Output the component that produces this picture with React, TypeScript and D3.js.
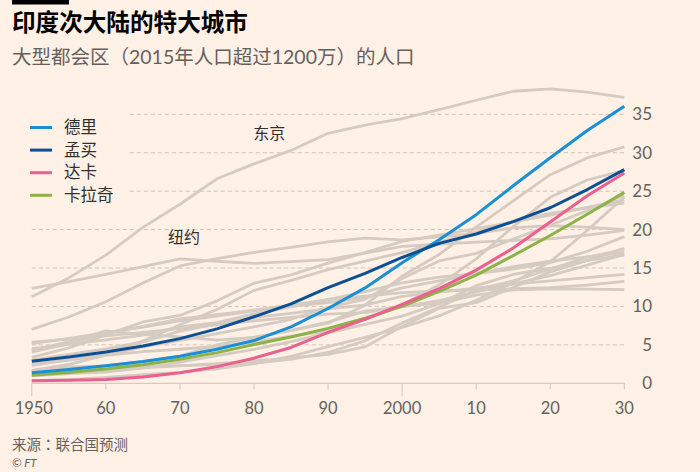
import React from "react";
import * as d3 from "d3";

const years = [1950, 1955, 1960, 1965, 1970, 1975, 1980, 1985, 1990, 1995, 2000, 2005, 2010, 2015, 2020, 2025, 2030];

// Highlighted cities (millions)
const delhi = [1.37, 1.78, 2.28, 2.84, 3.53, 4.43, 5.56, 7.33, 9.73, 12.41, 15.69, 18.67, 21.94, 25.7, 29.35, 32.9, 36.06];
const mumbai = [2.86, 3.43, 4.06, 4.85, 5.81, 7.08, 8.66, 10.34, 12.44, 14.31, 16.37, 18.21, 19.42, 21.04, 22.84, 25.21, 27.8];
const dhaka = [0.34, 0.41, 0.51, 0.82, 1.37, 2.17, 3.27, 4.66, 6.62, 8.33, 10.28, 12.33, 14.73, 17.6, 20.99, 24.4, 27.37];
const karachi = [1.05, 1.39, 1.85, 2.41, 3.12, 3.99, 5.05, 6.03, 7.15, 8.47, 10.02, 11.96, 14.08, 16.62, 19.23, 22.0, 24.84];

// Other megacities (grey)
const tokyo = [11.27, 13.71, 16.68, 20.28, 23.3, 26.61, 28.55, 30.3, 32.53, 33.59, 34.45, 35.62, 36.83, 38.0, 38.32, 37.88, 37.19];
const newYork = [12.34, 13.22, 14.16, 15.18, 16.19, 15.88, 15.6, 15.83, 16.09, 16.94, 17.81, 18.09, 18.37, 18.59, 18.8, 19.29, 19.89];
const shanghai = [4.29, 5.41, 6.82, 6.37, 6.04, 5.63, 5.97, 6.85, 7.82, 10.17, 13.96, 16.76, 20.31, 23.74, 27.14, 29.32, 30.75];
const mexicoCity = [3.37, 4.61, 6.3, 7.98, 8.83, 10.73, 13.03, 14.11, 15.64, 17.02, 18.46, 19.28, 20.13, 20.99, 21.87, 22.9, 23.87];
const saoPaulo = [2.33, 3.04, 3.97, 5.49, 7.62, 9.61, 12.09, 13.4, 14.78, 15.91, 17.01, 18.33, 19.66, 21.07, 22.12, 22.83, 23.44];
const osaka = [7.01, 8.63, 10.62, 13.05, 15.27, 16.23, 17.03, 17.7, 18.39, 18.89, 18.66, 19.04, 19.49, 20.24, 20.52, 20.31, 20.0];
const beijing = [1.67, 2.47, 3.65, 4.13, 4.43, 4.81, 5.37, 6.13, 6.79, 8.31, 10.16, 12.81, 16.19, 20.38, 24.2, 26.45, 27.71];
const cairo = [2.49, 3.03, 3.68, 4.74, 5.58, 6.45, 7.35, 8.33, 9.89, 10.93, 13.63, 15.92, 16.9, 18.77, 20.57, 22.46, 24.5];
const buenosAires = [5.17, 5.86, 6.6, 7.32, 8.11, 8.75, 9.42, 10.0, 10.51, 11.16, 12.41, 13.33, 14.25, 15.18, 15.89, 16.45, 17.0];
const kolkata = [4.51, 5.06, 5.65, 6.26, 7.33, 7.89, 9.03, 9.95, 10.89, 11.92, 13.06, 13.81, 14.28, 14.86, 15.7, 17.18, 19.09];
const istanbul = [0.97, 1.25, 1.45, 2.0, 2.77, 3.6, 4.4, 5.41, 6.55, 7.67, 8.74, 10.35, 12.7, 14.16, 14.97, 15.99, 16.69];
const chongqing = [1.57, 1.89, 2.27, 2.28, 2.3, 2.44, 2.64, 3.12, 4.01, 5.53, 7.86, 9.89, 12.17, 13.33, 14.84, 16.43, 17.38];
const lagos = [0.33, 0.47, 0.76, 1.13, 1.41, 1.89, 2.57, 3.5, 4.76, 5.97, 7.28, 8.77, 10.79, 13.12, 15.8, 19.9, 24.24];
const manila = [1.54, 2.14, 2.27, 2.83, 3.53, 4.99, 5.96, 6.89, 7.97, 9.4, 9.96, 10.76, 11.89, 12.95, 14.0, 15.37, 16.76];
const rio = [3.03, 3.77, 4.49, 5.39, 6.79, 7.73, 8.58, 9.09, 9.7, 10.17, 11.31, 11.86, 12.37, 12.9, 13.32, 13.74, 14.17];
const guangzhou = [1.34, 1.56, 1.79, 2.01, 2.27, 2.57, 2.92, 3.31, 3.75, 4.74, 7.39, 9.76, 10.49, 12.46, 14.5, 16.0, 17.57];
const losAngeles = [4.05, 5.15, 6.53, 7.41, 8.38, 8.93, 9.51, 10.18, 10.88, 11.34, 11.8, 12.01, 12.16, 12.31, 12.46, 12.77, 13.26];
const moscow = [5.36, 5.75, 6.17, 6.62, 7.11, 7.62, 8.14, 8.58, 8.99, 9.2, 10.0, 10.42, 11.46, 12.17, 12.28, 12.26, 12.2];

const greySeries = [tokyo, newYork, shanghai, mexicoCity, saoPaulo, osaka, beijing, cairo, buenosAires, kolkata, istanbul, chongqing, lagos, manila, rio, guangzhou, losAngeles, moscow];

const highlightNames = ["德里", "孟买", "达卡", "卡拉奇"];
const highlightSeries = [delhi, mumbai, dhaka, karachi];
const highlightColors = ["#1a8fd6", "#0d4f94", "#ec5f8e", "#8cb348"];
const drawOrder = [3, 2, 0, 1];

const xTicks = [1950, 1960, 1970, 1980, 1990, 2000, 2010, 2020, 2030];
const xTickLabels = ["1950", "60", "70", "80", "90", "2000", "10", "20", "30"];
const longTicks = [1950, 2000];
const yTicks = [0, 5, 10, 15, 20, 25, 30, 35];

const annotations = [
  { text: "东京", year: 1979.9, value: 31.8 },
  { text: "纽约", year: 1968.4, value: 18.25 },
];

const W = 700;
const H = 472;
const FONT = "Lato, 'Noto Sans CJK SC', 'Noto Sans', sans-serif";
const CJK = "'Noto Sans CJK SC', sans-serif";

export default function App() {
  const x = d3.scaleLinear().domain([1950, 2030]).range([31.8, 624.3]);
  const y = d3.scaleLinear().domain([0, 35]).range([383.3, 114.3]);
  const line = d3
    .line<number>()
    .x((_, i) => x(years[i]))
    .y((d) => y(d))
    .curve(d3.curveLinear);

  return (
    <svg
      width={W}
      height={H}
      style={{ position: "absolute", left: 0, top: 0, display: "block" }}
      fontFamily={FONT}
    >
      <rect x={0} y={0} width={W} height={H} fill="#fff1e5" />
      <rect x={12} y={0} width={57} height={4.5} fill="#000" />
      <text x={12} y={31} fontSize={23.6} fontWeight="bold" fill="#000" fontFamily={CJK}>
        印度次大陆的特大城市
      </text>
      <text x={12} y={64} fontSize={19.5} fill="#66605c" fontFamily={FONT}>
        大型都会区（2015年人口超过1200万）的人口
      </text>

      {/* gridlines */}
      {yTicks
        .filter((t) => t > 0)
        .map((t) => (
          <line
            key={"g" + t}
            x1={x(1950)}
            x2={x(2030)}
            y1={y(t)}
            y2={y(t)}
            stroke="#cfc3b8"
            strokeWidth={1}
            strokeDasharray="4,3"
          />
        ))}

      {/* legend background */}
      <rect x={0} y={104} width={128} height={108} fill="#fff1e5" />

      {/* axis */}
      <line x1={x(1950)} x2={x(2030)} y1={y(0)} y2={y(0)} stroke="#cfc3b8" strokeWidth={1} />
      {xTicks.map((t, i) => (
        <g key={"x" + t}>
          <line
            x1={x(t)}
            x2={x(t)}
            y1={y(0)}
            y2={y(0) + (longTicks.includes(t) ? 13 : 6)}
            stroke="#cfc3b8"
            strokeWidth={1}
          />
          <text x={x(t) + (t === 1950 ? 2 : 0)} y={414} fontSize={16.5} fill="#66605c" textAnchor="middle">
            {xTickLabels[i]}
          </text>
        </g>
      ))}
      {yTicks.map((t) => (
        <text key={"y" + t} x={652} y={y(t)} dy="0.35em" fontSize={17} fill="#66605c" textAnchor="end">
          {t}
        </text>
      ))}

      {/* grey lines */}
      {greySeries.map((s, i) => (
        <path key={"s" + i} d={line(s) || ""} fill="none" stroke="#d5cbc1" strokeWidth={2.8} strokeLinejoin="round" />
      ))}

      {/* highlight lines */}
      {drawOrder.map((i) => (
        <path
          key={"h" + i}
          d={line(highlightSeries[i]) || ""}
          fill="none"
          stroke={highlightColors[i]}
          strokeWidth={3}
          strokeLinejoin="round"
        />
      ))}

      {/* annotations */}
      {annotations.map((a) => (
        <text key={a.text} x={x(a.year)} y={y(a.value)} fontSize={16} fill="#33302e" fontFamily={CJK}>
          {a.text}
        </text>
      ))}

      {/* legend */}
      {highlightNames.map((n, i) => (
        <g key={n} transform={`translate(30, ${127.5 + i * 22.6})`}>
          <line x1={0} x2={22} y1={0} y2={0} stroke={highlightColors[i]} strokeWidth={3} />
          <text x={34} y={0} dy="0.35em" fontSize={16.5} fill="#33302e" fontFamily={CJK}>
            {n}
          </text>
        </g>
      ))}

      {/* footer */}
      <text x={12} y={450} fontSize={14.5} fill="#66605c" fontFamily="'Noto Sans CJK TC', 'Noto Sans CJK SC', sans-serif">
        来源：联合国预测
      </text>
      <text x={12} y={466.5} fontSize={11.5} fontStyle="italic" fill="#66605c">
        © FT
      </text>
    </svg>
  );
}
